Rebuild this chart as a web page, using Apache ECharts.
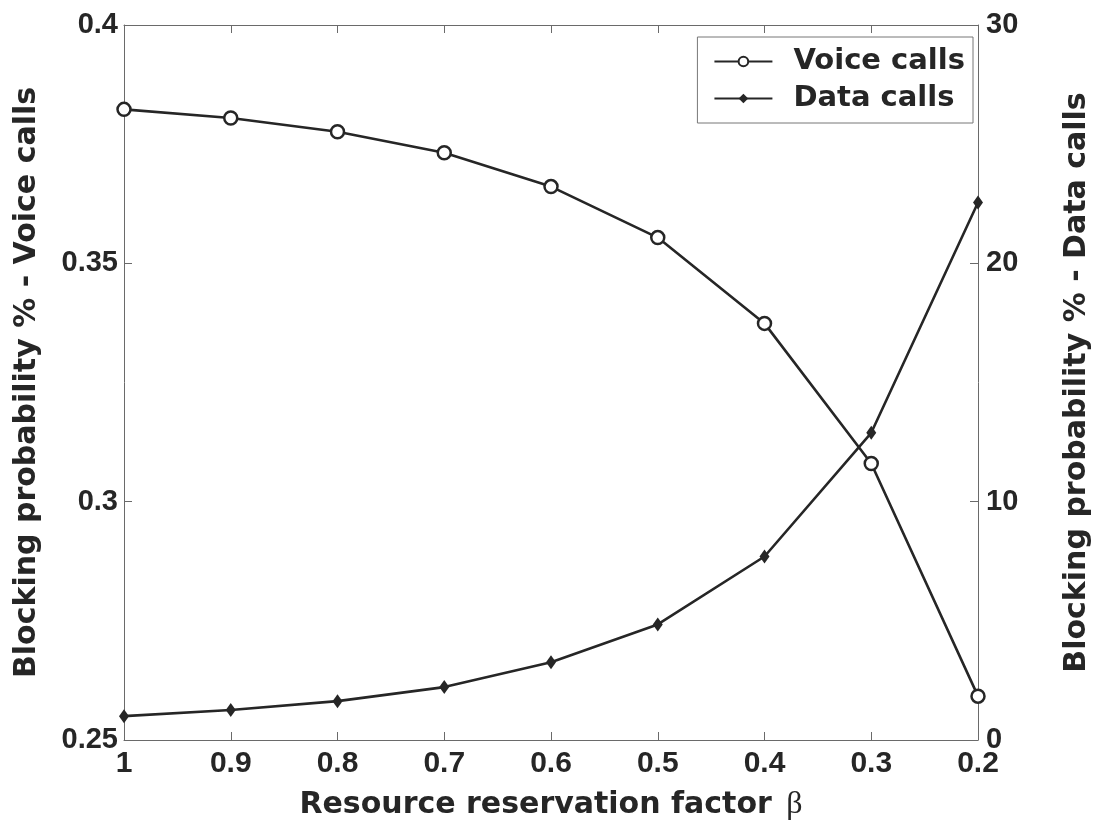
<!DOCTYPE html>
<html>
<head>
<meta charset="utf-8">
<script src="https://cdn.jsdelivr.net/npm/echarts@6/dist/echarts.min.js"></script>
<style>
  html, body { margin: 0; padding: 0; background: #fff; }
  #chart { width: 1104px; height: 826px; }
</style>
</head>
<body>
<div id="chart"></div>
<script>
// Resource reservation factor β (x axis, decreasing left to right)
const beta = [1, 0.9, 0.8, 0.7, 0.6, 0.5, 0.4, 0.3, 0.2];
// Blocking probability of voice calls (left axis)
const voiceCalls = [0.3823, 0.3805, 0.3776, 0.3732, 0.3661, 0.3554, 0.3374, 0.3080, 0.2592];
// Blocking probability of data calls, % (right axis)
const dataCalls = [1.0, 1.26, 1.63, 2.22, 3.26, 4.85, 7.70, 12.89, 22.55];

const FONT = '"Liberation Sans", Arial, sans-serif';
const TITLE_FONT = '"DejaVu Sans", "Liberation Sans", sans-serif';
const INK = '#262626';
const AXIS = '#6a6a6a';

const chart = echarts.init(document.getElementById('chart'), null, { renderer: 'canvas' });

const pairs = (ys) => beta.map((b, i) => [b, ys[i]]);

const xCommon = {
  type: 'value',
  min: 0.2,
  max: 1,
  interval: 0.1,
  inverse: true,
  splitLine: { show: false },
  axisLine: { show: true, onZero: false, lineStyle: { color: AXIS, width: 1 } },
  axisTick: { show: true, inside: true, length: 8, lineStyle: { color: AXIS } }
};

const titleStyle = { fontFamily: TITLE_FONT, fontSize: 30, fontWeight: 'bold', color: INK };

chart.setOption({
  backgroundColor: '#ffffff',
  animation: false,
  grid: { left: 124, right: 126, top: 25, bottom: 84, containLabel: false },
  legend: {
    orient: 'vertical',
    right: 131,
    top: 37,
    padding: [10, 8, 10, 16],
    itemGap: 8,
    itemWidth: 58,
    itemHeight: 12,
    borderColor: '#777',
    borderWidth: 1,
    backgroundColor: '#fff',
    textStyle: Object.assign({}, titleStyle, { fontSize: 29, padding: [0, 0, 0, 16] }),
    data: [
      { name: 'Voice calls', itemStyle: { color: '#fff', borderColor: INK, borderWidth: 2 } },
      { name: 'Data calls' }
    ]
  },
  xAxis: [
    Object.assign({}, xCommon, {
      position: 'bottom',
      name: 'Resource reservation factor {b|β}',
      nameLocation: 'middle',
      nameGap: 49,
      nameTextStyle: Object.assign({}, titleStyle, {
        rich: {
          b: { fontFamily: '"Liberation Serif", "DejaVu Serif", serif', fontWeight: 'normal', fontSize: 32, color: INK, padding: [0, 0, 0, 4] }
        }
      }),
      axisLabel: {
        fontFamily: FONT, fontSize: 30, fontWeight: 'bold', color: INK, margin: 9,
        formatter: (v) => String(Math.round(v * 10) / 10)
      }
    }),
    Object.assign({}, xCommon, {
      position: 'top',
      axisLabel: { show: false }
    })
  ],
  yAxis: [
    {
      type: 'value',
      min: 0.25,
      max: 0.4,
      interval: 0.05,
      position: 'left',
      name: 'Blocking probability % - Voice calls',
      nameLocation: 'middle',
      nameGap: 82,
      nameRotate: 90,
      nameTextStyle: titleStyle,
      splitLine: { show: false },
      axisLine: { show: true, onZero: false, lineStyle: { color: AXIS, width: 1 } },
      axisTick: { show: true, inside: true, length: 8, lineStyle: { color: AXIS } },
      axisLabel: {
        fontFamily: FONT, fontSize: 29, fontWeight: 'bold', color: INK, margin: 6,
        formatter: (v) => String(Math.round(v * 100) / 100)
      }
    },
    {
      type: 'value',
      min: 0,
      max: 30,
      interval: 10,
      position: 'right',
      name: 'Blocking probability % - Data calls',
      nameLocation: 'middle',
      nameGap: 84,
      nameRotate: 90,
      nameTextStyle: titleStyle,
      splitLine: { show: false },
      axisLine: { show: true, onZero: false, lineStyle: { color: AXIS, width: 1 } },
      axisTick: { show: true, inside: true, length: 8, lineStyle: { color: AXIS } },
      axisLabel: { fontFamily: FONT, fontSize: 29, fontWeight: 'bold', color: INK, margin: 8 }
    }
  ],
  series: [
    {
      name: 'Voice calls',
      type: 'line',
      xAxisIndex: 0,
      yAxisIndex: 0,
      data: pairs(voiceCalls),
      symbol: 'circle',
      symbolSize: 13,
      showAllSymbol: true,
      lineStyle: { color: INK, width: 2.6 },
      itemStyle: { color: '#ffffff', borderColor: INK, borderWidth: 2.5 },
      emphasis: { disabled: true },
      z: 3
    },
    {
      name: 'Data calls',
      type: 'line',
      xAxisIndex: 0,
      yAxisIndex: 1,
      data: pairs(dataCalls),
      symbol: 'diamond',
      symbolSize: [10, 14],
      showAllSymbol: true,
      lineStyle: { color: INK, width: 2.6 },
      itemStyle: { color: INK, borderColor: INK, borderWidth: 0 },
      emphasis: { disabled: true },
      z: 3
    }
  ]
});
</script>
</body>
</html>
